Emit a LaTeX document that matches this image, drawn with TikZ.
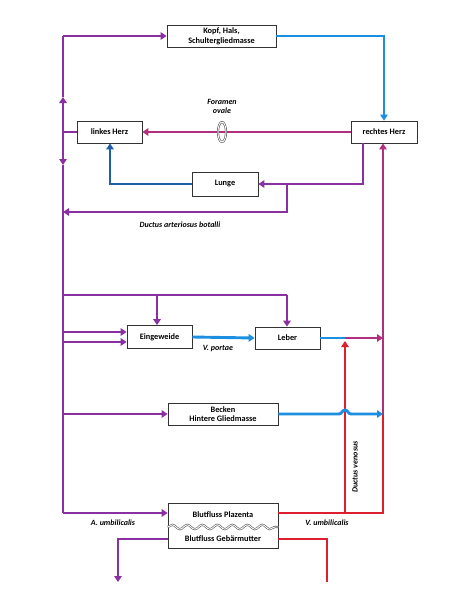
\documentclass[tikz,border=0pt]{standalone}
\usepackage{fontspec}
\setmainfont{Carlito}
\usetikzlibrary{arrows.meta,decorations.pathmorphing,shapes.geometric}
\definecolor{cpurple}{HTML}{8A30A2}
\definecolor{cblue}{HTML}{1C8FE0}
\definecolor{cdblue}{HTML}{1F5FA8}
\definecolor{cred}{HTML}{DE1F2E}
\definecolor{cmag}{HTML}{B0307E}
\begin{document}
\begin{tikzpicture}[x=1pt,y=-1pt,
  box/.style={draw=black!80,line width=0.7pt,fill=white,font=\fontsize{8.3}{9.6}\selectfont\bfseries,align=center,inner sep=0pt},
  flow/.style={line width=2.9pt,line join=miter},
  tip/.style={-{Triangle[length=6pt,width=7.5pt]}},
  lab/.style={font=\fontsize{8}{9}\selectfont\bfseries\itshape,align=center,inner sep=0pt}]
\useasboundingbox (0,0) rectangle (463,590);
% boxes
\node[box,minimum width=109pt,minimum height=22pt] (kopf) at (221.5,36) {Kopf, Hals,\\Schultergliedmasse};
\node[box,minimum width=65pt,minimum height=22pt] (linkes) at (109.5,132) {linkes Herz};
\node[box,minimum width=66pt,minimum height=22pt] (rechtes) at (384,132) {rechtes Herz};
\node[box,minimum width=66pt,minimum height=24pt] (lunge) at (225,184) {Lunge};
\node[box,minimum width=65pt,minimum height=23pt] (eing) at (159.5,337) {Eingeweide};
\node[box,minimum width=65pt,minimum height=22pt] (leber) at (287.5,338) {Leber};
\node[box,minimum width=110pt,minimum height=22pt] (becken) at (223,414) {Becken\\Hintere Gliedmasse};
\node[box,minimum width=110pt,minimum height=45pt] (blut) at (223,525.5) {};
\node[box,draw=none,fill=none] (plaz) at (223,515) {Blutfluss Plazenta};
\node[box,draw=none,fill=none] (gebm) at (223,539) {Blutfluss Gebärmutter};
% coordinates
\coordinate (Ltop) at (63,36);
\coordinate (Lherz) at (63,132);
\coordinate (Lup) at (63,97);
\coordinate (Ldn) at (63,165);
\coordinate (Lduct) at (63,212);
\coordinate (Lbr) at (63,295);
\coordinate (Le1) at (63,332);
\coordinate (Le2) at (63,342);
\coordinate (Lbk) at (63,414);
\coordinate (Lbot) at (63,513);
\coordinate (Kr) at (384,36);
\coordinate (Rd) at (363,184);
\coordinate (Dt) at (287,184);
\coordinate (Db) at (287,212);
\coordinate (Lu) at (110,184);
\coordinate (Bm) at (157,295);
\coordinate (Br) at (287,295);
\coordinate (Lj) at (345,338);
\coordinate (Rl) at (383,338);
\coordinate (Rb) at (383,414);
\coordinate (Rbot) at (383,513);
\coordinate (Dv) at (345,513);
\coordinate (Dvt) at (345,341);
\coordinate (Pl) at (118,539);
\coordinate (Pld) at (118,582);
\coordinate (Pr) at (327,539);
\coordinate (Prd) at (327,582);
% left trunk
\draw[flow,cpurple] (linkes.west) -- (Lherz);
\draw[flow,cpurple,tip] (Lherz) -- (Lup);
\draw[flow,cpurple] (Lup) -- (Ltop);
\draw[flow,cpurple,tip] (Ltop) -- (kopf.west);
\draw[flow,cpurple,tip] (Lherz) -- (Ldn);
\draw[flow,cpurple] (Ldn) -- (Lbot);
% head return
\draw[flow,cblue,tip] (kopf.east) -- (Kr) -- (rechtes.north);
% foramen ovale
\draw[flow,cmag,tip] (rechtes.west) -- (linkes.east);
\node[draw=gray!70!black,double=white,double distance=0.9pt,line width=0.6pt,ellipse,minimum width=8pt,minimum height=20pt,inner sep=0pt,fill=none] (ring) at (222,132) {};
\node[lab] (fo) at (222,106) {Foramen\\ovale};
% lung
\draw[flow,cpurple,tip] (rechtes.south -| Rd) -- (Rd) -- (lunge.east);
\draw[flow,cdblue,tip] (lunge.west) -- (Lu) -- (linkes.south -| Lu);
% ductus arteriosus
\draw[flow,cpurple,tip] (Dt) -- (Db) -- (Lduct);
\node[lab] (da) at (180,225) {Ductus arteriosus botalli};
% right trunk
\draw[flow,cred] (Dv) -- (Rbot) -- (Rb);
\draw[flow,cmag,tip] (Rb) -- (rechtes.south -| Rb);
% viscera
\draw[flow,cpurple] (Lbr) -- (Br);
\draw[flow,cpurple,tip] (Br) -- (leber.north -| Br);
\draw[flow,cpurple,tip] (Bm) -- (eing.north -| Bm);
\draw[flow,cpurple,tip] (Le1) -- (eing.west |- Le1);
\draw[flow,cpurple,tip] (Le2) -- (eing.west |- Le2);
\draw[flow,cblue,tip] (eing.east) -- (leber.west);
\node[lab] (vp) at (218,349) {V. portae};
\draw[flow,cblue] (leber.east) -- (Lj);
\draw[flow,cmag,tip] (Lj) -- (Rl);
% ductus venosus
\draw[flow,cred,tip] (Dv) -- (Dvt);
\node[lab,rotate=90] (dvl) at (355,467) {Ductus venosus};
% pelvis
\draw[flow,cpurple,tip] (Lbk) -- (becken.west);
\draw[flow,cblue,tip] (becken.east) -- (339,414) .. controls (342,414) and (342,410) .. (345,410) .. controls (348,410) and (348,414) .. (351,414) -- (Rb);
% umbilical
\draw[flow,cpurple,tip] (Lbot) -- (blut.west |- Lbot);
\node[lab] (au) at (113,523) {A. umbilicalis};
\draw[flow,cred] (blut.east |- Rbot) -- (Rbot);
\node[lab] (vu) at (327,523) {V. umbilicalis};
\draw[flow,cpurple,tip] (blut.west |- Pl) -- (Pl) -- (Pld);
\draw[flow,cred] (blut.east |- Pr) -- (Pr) -- (Prd);
% wavy separation
\draw[gray!70!black,double=white,double distance=0.9pt,line width=0.6pt,decorate,decoration={snake,amplitude=2.2pt,segment length=15pt}] (blut.west |- 0,527) -- (blut.east |- 0,527);
\end{tikzpicture}
\end{document}
